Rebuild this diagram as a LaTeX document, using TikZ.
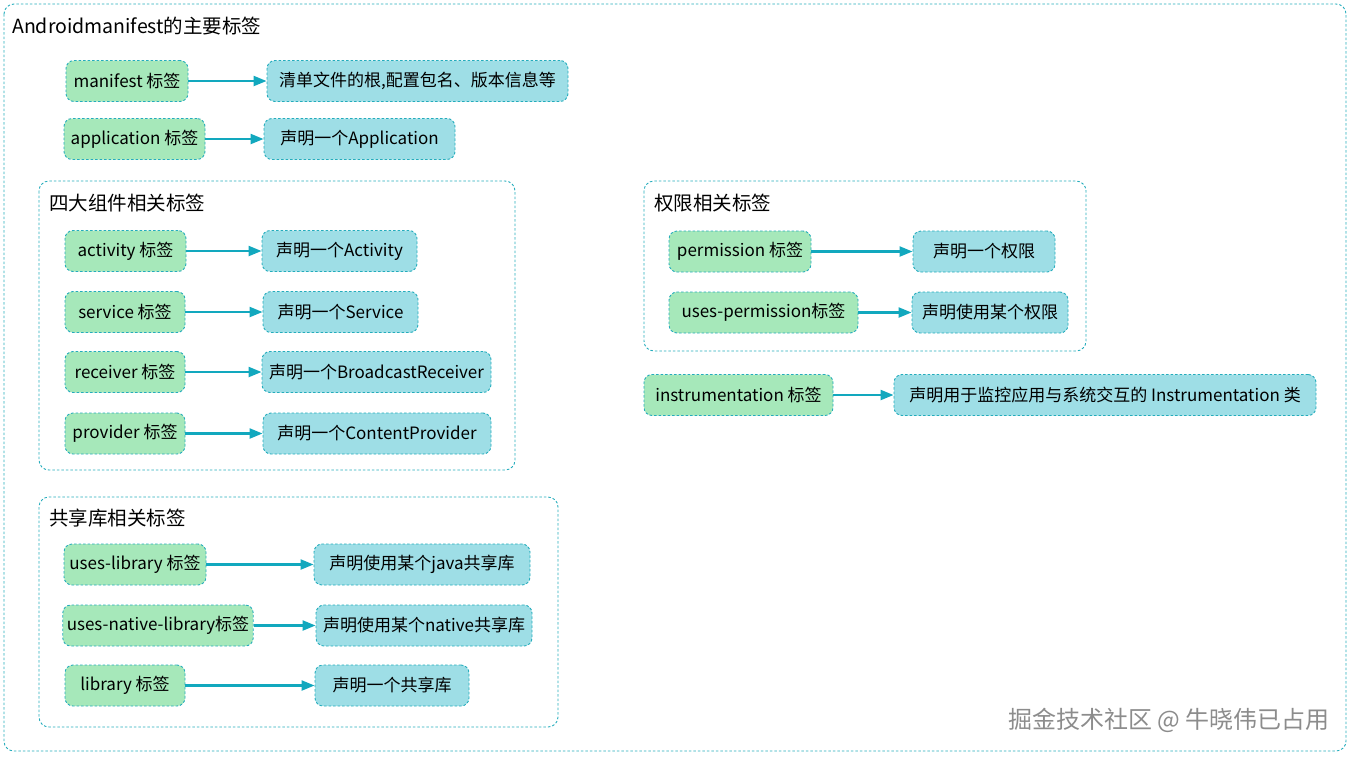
\documentclass[tikz,border=0pt]{standalone}
\usepackage{fontspec}
\setmainfont{Noto Sans CJK SC}
\usetikzlibrary{arrows.meta,positioning}
\definecolor{tagfill}{RGB}{166,232,186}
\definecolor{descfill}{RGB}{158,222,230}
\definecolor{dashc}{RGB}{36,172,188}
\definecolor{arrowc}{RGB}{18,168,190}
\definecolor{markc}{RGB}{140,140,140}

\begin{document}
\begin{tikzpicture}
[x=1pt,y=-1pt,
tag/.style={rectangle,draw=dashc,fill=tagfill,dash pattern=on 2.5pt off 2pt,
line width=0.9pt,rounded corners=8pt,minimum height=41pt,inner xsep=4pt,
font=\fontsize{17}{19}\selectfont},
desc/.style={tag,fill=descfill},
group/.style={draw=dashc,dash pattern=on 2.5pt off 2pt,line width=0.9pt,rounded corners=10pt},
heading/.style={anchor=west,inner sep=0pt,font=\fontsize{19.5}{22}\selectfont},
link/.style={-{Triangle[length=13pt,width=10pt]},line width=2.2pt,draw=arrowc}]

\useasboundingbox (0,0) rectangle (1351,756);

% frames
\draw[group] (4,4) rectangle (1346,751);
\draw[group] (39,181) rectangle (515,470);
\draw[group] (39,497) rectangle (558,727);
\draw[group] (644,181) rectangle (1086,351);

\node[heading] (title) at (12,26) {Androidmanifest的主要标签};
\node[heading] (compTitle) at (49,203) {四大组件相关标签};
\node[heading] (libTitle) at (49,518) {共享库相关标签};
\node[heading] (permTitle) at (654,203) {权限相关标签};

% top level tags
\node[tag,minimum width=122] (manifest) at (127,81) {manifest 标签};
\node[desc,minimum width=301] (manifestDesc) at (417.5,81) {清单文件的根,配置包名、版本信息等};
\node[tag,minimum width=141] (application) at (134.5,139) {application 标签};
\node[desc,minimum width=191] (applicationDesc) at (359.5,139) {声明一个Application};

% four components
\node[tag,minimum width=121] (activity) at (125.5,251) {activity 标签};
\node[desc,minimum width=155] (activityDesc) at (339.5,251) {声明一个Activity};
\node[tag,minimum width=120] (service) at (125,312) {service 标签};
\node[desc,minimum width=155] (serviceDesc) at (340.5,312) {声明一个Service};
\node[tag,minimum width=120] (receiver) at (125,372) {receiver 标签};
\node[desc,minimum width=229] (receiverDesc) at (376.5,372) {声明一个BroadcastReceiver};
\node[tag,minimum width=120] (provider) at (125,433.5) {provider 标签};
\node[desc,minimum width=228] (providerDesc) at (377,433.5) {声明一个ContentProvider};

% shared libraries
\node[tag,minimum width=142] (usesLibrary) at (135,564.5) {uses-library 标签};
\node[desc,minimum width=216] (usesLibraryDesc) at (422,564.5) {声明使用某个java共享库};
\node[tag,minimum width=188] (nativeLibrary) at (158,625.5) {uses-native-library标签};
\node[desc,minimum width=216] (nativeLibraryDesc) at (424,625.5) {声明使用某个native共享库};
\node[tag,minimum width=120] (library) at (125,685.5) {library 标签};
\node[desc,minimum width=154] (libraryDesc) at (392,685.5) {声明一个共享库};

% permissions
\node[tag,minimum width=142] (permission) at (740,251.5) {permission 标签};
\node[desc,minimum width=142] (permissionDesc) at (984,251.5) {声明一个权限};
\node[tag,minimum width=189] (usesPermission) at (763.5,312.5) {uses-permission标签};
\node[desc,minimum width=156] (usesPermissionDesc) at (990,312.5) {声明使用某个权限};

\node[tag,minimum width=189] (instrumentation) at (738.5,395) {instrumentation 标签};
\node[desc,minimum width=422] (instrumentationDesc) at (1105,395) {声明用于监控应用与系统交互的 Instrumentation 类};

% connectors
\foreach \src in {manifest,application,activity,service,receiver,provider,
usesLibrary,nativeLibrary,library,permission,usesPermission,instrumentation}
  \draw[link] (\src) -- (\src Desc);

\node[anchor=east,inner sep=0pt,text=markc,font=\fontsize{24}{26}\selectfont]
  (mark) at (1330,720) {掘金技术社区 @ 牛晓伟已占用};

\end{tikzpicture}
\end{document}
